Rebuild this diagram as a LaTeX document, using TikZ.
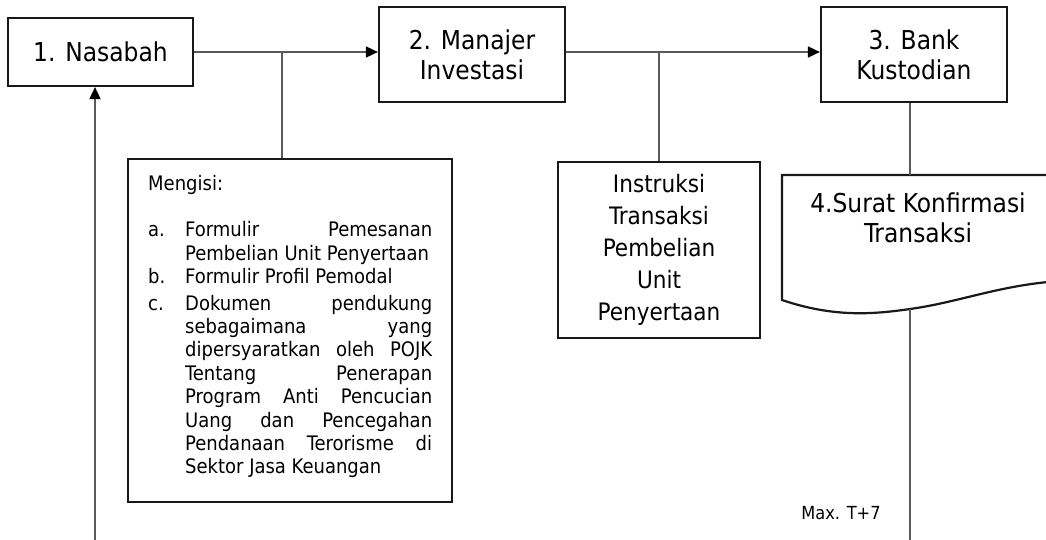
\documentclass[tikz,border=0pt]{standalone}
\usepackage{fontspec}
\setmainfont{DejaVu Sans Condensed}
\usetikzlibrary{arrows.meta}

\begin{document}
\begin{tikzpicture}[x=1pt,y=-1pt]
\tikzstyle{every node}+=[inner sep=0pt]
\tikzstyle{kotak}=[draw=black!90, line width=2.2pt, align=center]
\tikzstyle{garis}=[draw=black!65, line width=1.7pt]
\tikzstyle{panah}=[garis, -{Triangle[length=12pt,width=11pt,color=black]}]
\useasboundingbox (0,0) rectangle (1046,539);
\clip (0,0) rectangle (1046,539);
\node [kotak, minimum width=185pt, minimum height=68pt, font=\fontsize{26}{30}\selectfont] (nasabah) at (100.5,52) {1. Nasabah};
\node [kotak, minimum width=186pt, minimum height=95pt, font=\fontsize{26}{30}\selectfont] (manajer) at (472,54.5) {2. Manajer\\Investasi};
\node [kotak, minimum width=186pt, minimum height=95pt, font=\fontsize{26}{30}\selectfont] (bank) at (914,54.5) {3. Bank\\Kustodian};
\node [kotak, minimum width=324pt, minimum height=343pt] (syarat) at (290,330.5) {};
\node [anchor=base west, align=left, font=\fontsize{20}{23.4}\selectfont] (isian) at (148,190) {\begin{tabular}[t]{@{}p{37pt}@{}l@{}}
\multicolumn{2}{@{}l@{}}{Mengisi:}\\
 & \\
a. & \makebox[247pt][s]{Formulir Pemesanan}\\
 & Pembelian Unit Penyertaan\\
b. & Formulir Profil Pemodal\\[3pt]
c. & \makebox[247pt][s]{Dokumen pendukung}\\
 & \makebox[247pt][s]{sebagaimana yang}\\
 & \makebox[247pt][s]{dipersyaratkan oleh POJK}\\
 & \makebox[247pt][s]{Tentang Penerapan}\\
 & \makebox[247pt][s]{Program Anti Pencucian}\\
 & \makebox[247pt][s]{Uang dan Pencegahan}\\
 & \makebox[247pt][s]{Pendanaan Terorisme di}\\
 & Sektor Jasa Keuangan
\end{tabular}};
\node [kotak, minimum width=202pt, minimum height=176pt, font=\fontsize{24}{32}\selectfont] (instruksi) at (659,250) {Instruksi\\Transaksi\\Pembelian\\Unit\\Penyertaan};
\coordinate (dok) at (782,175);
\coordinate (dokbawah) at (910,309);
\draw [kotak] (1060,175) -- (dok) -- (782,300) .. controls (835,318) and (875,314) .. (dokbawah) .. controls (960,302) and (1000,285) .. (1060,281);
\node [align=center, font=\fontsize{26}{30}\selectfont] (konfirmasi) at (918,218) {4.Surat Konfirmasi\\Transaksi};
\node [font=\fontsize{18}{20}\selectfont] (maks) at (841,513) {Max. T+7};
\coordinate (cabang1) at (282,52);
\coordinate (bawah1) at (95,545);
\coordinate (bawah3) at (910,545);
\draw [panah] (nasabah.east) -- (nasabah.east -| manajer.west);
\draw [garis] (cabang1) -- (cabang1 |- syarat.north);
\draw [panah] (manajer.east |- nasabah.east) -- (nasabah.east -| bank.west);
\draw [garis] (instruksi.north |- nasabah.east) -- (instruksi.north);
\draw [garis] (dokbawah |- bank.south) -- (dokbawah |- dok);
\draw [garis] (dokbawah) -- (bawah3);
\draw [panah] (bawah1) -- (bawah1 |- nasabah.south);
\end{tikzpicture}
\end{document}
